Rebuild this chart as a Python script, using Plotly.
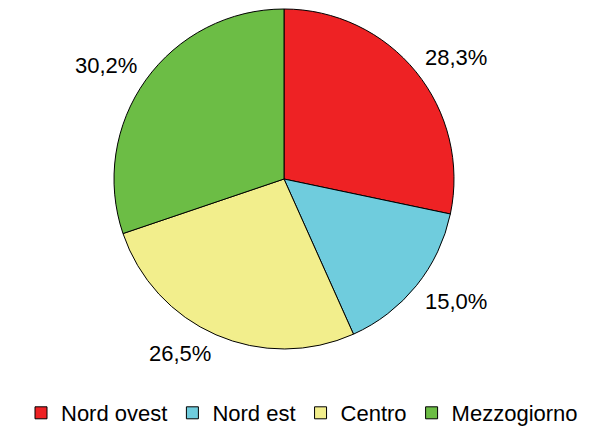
import math
import plotly.graph_objects as go

categories = ["Nord ovest", "Nord est", "Centro", "Mezzogiorno"]
values = [28.3, 15.0, 26.5, 30.2]
colors = ["#EE2224", "#6FCCDD", "#F2EE8C", "#6CBD45"]

W, H = 594, 427
OFF = 8  # page body margin of the browser


def px(sx):
    return (sx - OFF) / W


def py(sy):
    return 1 - (sy - OFF) / H


cx, cy, r = 284, 179, 170
dom_x = [px(cx - r), px(cx + r)]
dom_y = [py(cy + r), py(cy - r)]

fig = go.Figure(go.Pie(
    labels=categories, values=values, sort=False, direction="clockwise", rotation=0,
    marker=dict(colors=colors, line=dict(color="black", width=1)),
    textinfo="none", hoverinfo="label+percent",
    domain=dict(x=dom_x, y=dom_y),
))

# labels anchored just outside each slice at its mid-angle (derived from values)
total = sum(values)
cum = 0
annotations = []
R = 180
for v in values:
    mid = (cum + v / 2) / total * 2 * math.pi
    cum += v
    s, c = math.sin(mid), math.cos(mid)
    ax = cx + R * s
    ay = cy - R * c
    annotations.append(dict(
        x=px(ax), y=py(ay), xref="paper", yref="paper", showarrow=False,
        text=f"{v:.1f}".replace(".", ",") + "%",
        font=dict(family="Liberation Sans, Arial", size=22, color="black"),
        xanchor="left" if s > 0 else "right",
        yanchor="bottom" if c > 0 else "top",
        xshift=-1 if s > 0 else 1,
        yshift=-6 if c > 0 else 5,
    ))

fig.update_layout(
    width=W, height=H, margin=dict(l=0, r=0, t=0, b=0, pad=0, autoexpand=False),
    paper_bgcolor="white", plot_bgcolor="white",
    annotations=annotations,
    showlegend=True,
    legend=dict(orientation="h", x=px(302), xanchor="center", y=py(413), yanchor="middle",
                font=dict(family="Liberation Sans, Arial", size=22, color="black"),
                itemwidth=30, traceorder="normal"),
)
fig.write_html("out.html")
